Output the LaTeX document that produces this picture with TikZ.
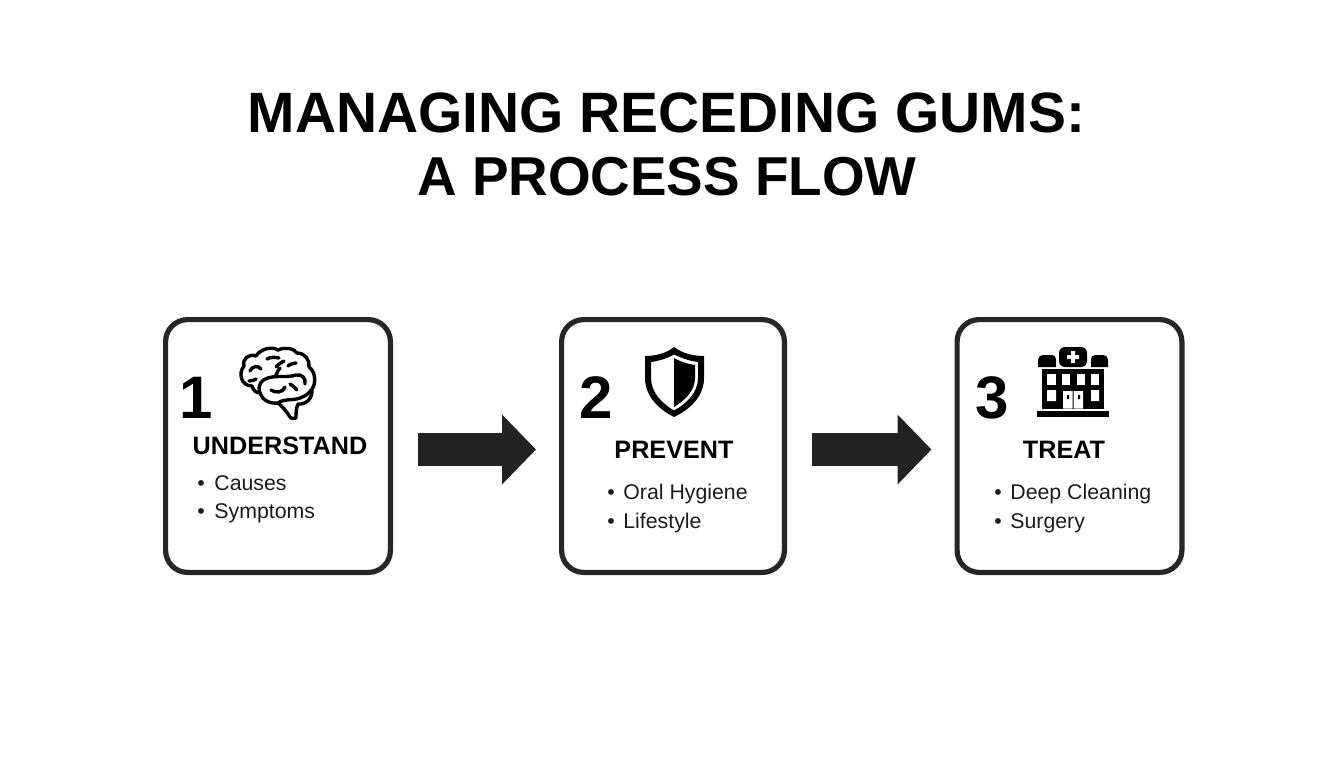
\documentclass[tikz,border=0pt]{standalone}
\usepackage{fontspec}
\setmainfont{Liberation Sans}
\usetikzlibrary{arrows.meta,calc}
\tikzset{
  panel/.style={draw=panelink,line width=2.6pt,rounded corners=11pt,fill=white,minimum width=112.4pt,minimum height=126.4pt,inner sep=0pt},
  flow/.style={draw=arrowink,line width=16.5pt,-{Triangle[length=17pt,width=34pt]},shorten <=12.5pt,shorten >=11.5pt},
  ttl/.style={font=\bfseries\fontsize{28.45}{30}\selectfont,inner sep=0pt,text=black},
  ttlb/.style={font=\bfseries\fontsize{27.4}{30}\selectfont,inner sep=0pt,text=black},
  num/.style={font=\bfseries\fontsize{30}{32}\selectfont,inner sep=0pt,text=black},
  head/.style={font=\bfseries\fontsize{12.6}{14}\selectfont,inner sep=0pt,text=black},
  item/.style={font=\fontsize{10.65}{12}\selectfont,inner sep=0pt,anchor=base west,text=textink},
  dotn/.style={font=\fontsize{10.65}{12}\selectfont,inner sep=0pt,anchor=base,text=textink},
  brainline/.style={draw=black,line width=1.7pt,line cap=round,line join=round},
}
\definecolor{panelink}{HTML}{262626}
\definecolor{arrowink}{HTML}{222222}
\definecolor{textink}{HTML}{1C1C1C}
\begin{document}
\begin{tikzpicture}[x=0.5pt,y=-0.5pt]
\useasboundingbox (0,0) rectangle (1344,768);
\fill[white] (0,0) rectangle (1344,768);
\node[ttl] (t1) at (666.5,113) {MANAGING RECEDING GUMS:};
\node[ttlb] (t2) at (667,177) {A PROCESS FLOW};
\node[panel] (b1) at (278,446) {};
\node[panel,minimum width=111.4pt] (b2) at (673,446) {};
\node[panel] (b3) at (1069.5,446) {};
\draw[flow] ($(b1.east)+(0,3.5)$) -- ($(b2.west)+(0,3.5)$);
\draw[flow] ($(b2.east)+(0,3.5)$) -- ($(b3.west)+(0,3.5)$);
% numbers
\node[num] (n1) at (196,398) {1};
\node[num] (n2) at (596.5,398) {2};
\node[num] (n3) at (992,398) {3};
% headings
\node[head] (h1) at (280,446) {UNDERSTAND};
\node[head] (h2) at (674,450) {PREVENT};
\node[head] (h3) at (1064,450) {TREAT};
% items
\node[dotn] (d1) at (201,490) {•};
\node[item] (i1) at (214,490) {Causes};
\node[dotn] (d2) at (201,518) {•};
\node[item] (i2) at (214,518) {Symptoms};
\node[dotn] (d3) at (611,499) {•};
\node[item] (i3) at (623,499) {Oral Hygiene};
\node[dotn] (d4) at (611,528) {•};
\node[item] (i4) at (623,528) {Lifestyle};
\node[dotn] (d5) at (998,499) {•};
\node[item] (i5) at (1010,499) {Deep Cleaning};
\node[dotn] (d6) at (998,528) {•};
\node[item] (i6) at (1010,528) {Surgery};
% brain
\fill[black] (292,402) -- (298,404) -- (296,419) -- (290,419) -- cycle;
\draw[brainline,fill=white] (252,386)
  .. controls (241,386) and (238,373) .. (244,366)
  .. controls (242,359) and (249,353) .. (256,356)
  .. controls (260,349) and (272,346) .. (278,350)
  .. controls (284,347) and (294,348) .. (297,353)
  .. controls (305,353) and (310,360) .. (309,367)
  .. controls (316,372) and (316,384) .. (312,389)
  .. controls (313,398) and (306,405) .. (298,404)
  .. controls (296,408) and (296,414) .. (296,418)
  .. controls (292,419) and (290,418) .. (290,417)
  .. controls (287,412) and (282,406) .. (278,403)
  .. controls (270,404) and (262,400) .. (260,393)
  .. controls (256,393) and (253,390) .. (252,386) -- cycle;
\draw[brainline] (260,393) .. controls (257,385) and (262,379) .. (268,378)
  .. controls (276,375) and (288,378) .. (296,375)
  .. controls (302,374) and (306,378) .. (305,384);
\draw[brainline] (278,403) .. controls (285,398) and (292,401) .. (300,398) .. controls (305,396) and (309,394) .. (311,390);
\draw[brainline] (250,371) .. controls (252,366) and (258,365) .. (261,369);
\draw[brainline] (267,359) .. controls (270,357) and (275,357) .. (279,358);
\draw[brainline] (276,367) .. controls (279,364) and (281,362) .. (284,361);
\draw[brainline] (288,366) .. controls (290,364) and (294,363) .. (296,363);
\draw[brainline] (276,375) .. controls (277,372) and (279,369) .. (280,368);
\draw[brainline] (249,381) .. controls (252,381) and (255,380) .. (256,379);
\draw[brainline] (271,390) .. controls (275,393) and (283,393) .. (285,387);
\draw[brainline] (290,384) .. controls (292,385) and (295,388) .. (297,390);
% shield
\fill[black,even odd rule] (674,347) .. controls (667,353) and (656,356) .. (645,356)
  -- (645,378) .. controls (645,397) and (660,410) .. (674,417)
  .. controls (689,410) and (704,397) .. (704,378) -- (704,356)
  .. controls (692,356) and (682,353) .. (674,347) -- cycle
  (674,354.5) .. controls (668,358) and (659,361) .. (651,362)
  -- (651,378) .. controls (651,393) and (663,404) .. (674,410.5)
  .. controls (686,404) and (698,393) .. (698,378) -- (698,362)
  .. controls (690,361) and (681,358) .. (674,354.5) -- cycle;
\fill[black] (674,358) .. controls (681,362) and (688,364) .. (695,365)
  -- (695,378) .. controls (695,391) and (685,400) .. (674,407) -- cycle;
% hospital
\fill[black] (1038,367) -- (1038,360) .. controls (1038,357) and (1040,355) .. (1043,355) -- (1052,355) .. controls (1055,355) and (1056,357) .. (1056,360) -- (1056,367) -- cycle;
\fill[black] (1091,367) -- (1091,360) .. controls (1091,357) and (1092,355) .. (1095,355) -- (1103,355) .. controls (1106,355) and (1108,357) .. (1108,360) -- (1108,367) -- cycle;
\fill[black,rounded corners=3pt] (1059,347) rectangle (1087,367);
\fill[white] (1071,351) rectangle (1075,363) (1067,355) rectangle (1079,359);
\fill[black] (1042,369) rectangle (1104,408.5);
\fill[black] (1037,410.5) rectangle (1109,417);
\foreach \px/\pw in {1047/9,1062/8,1077/8,1091/8}{
  \fill[white] (\px,374) rectangle ++(\pw,11);
}
\fill[white] (1047,390) rectangle ++(9,11) (1091,390) rectangle ++(8,11);
\fill[white] (1063,391) rectangle (1072.5,408.5) (1073.5,391) rectangle (1083,408.5);
\fill[black] (1067,395) rectangle (1069,399) (1078,395) rectangle (1080,399);
\end{tikzpicture}
\end{document}
